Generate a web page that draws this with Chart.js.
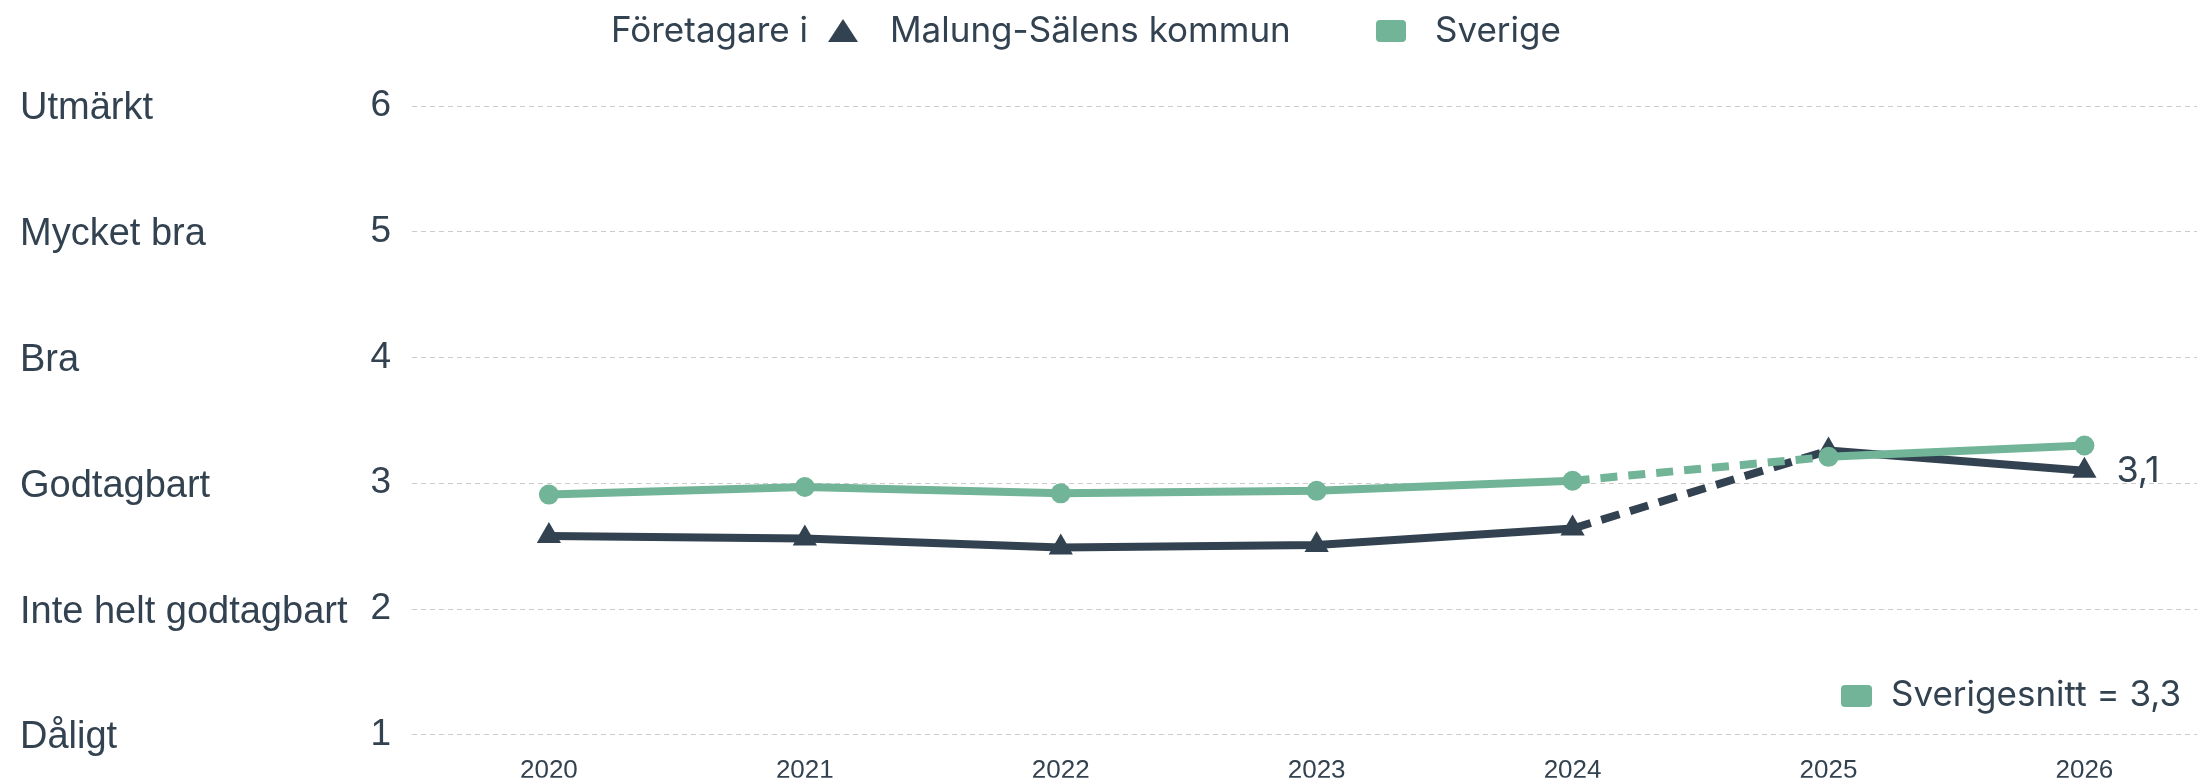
<!DOCTYPE html>
<html>
<head>
<meta charset="utf-8">
<script src="https://cdn.jsdelivr.net/npm/chart.js@4.4.1/dist/chart.umd.min.js"></script>
<style>
  html, body { margin: 0; padding: 0; background: #fff; }
  #wrap { width: 2211px; height: 778px; }
</style>
</head>
<body>
<div id="wrap"><canvas id="chart"></canvas></div>
<script>
// data
const years = [2020, 2021, 2022, 2023, 2024, 2025, 2026];
const malung = [2.58, 2.56, 2.49, 2.51, 2.64, 3.26, 3.10];
const sverige = [2.91, 2.97, 2.92, 2.94, 3.02, 3.21, 3.30];
const yTicks = [1, 2, 3, 4, 5, 6];
const yNames = ['Dåligt', 'Inte helt godtagbart', 'Godtagbart', 'Bra', 'Mycket bra', 'Utmärkt'];
const sverigeSnitt = 3.3;

const dark = '#334250';
const green = '#71b497';
const textCol = '#334250';
const legendFont = '35px Inter';
const labelFont = '38px "Liberation Sans"';

// 2024 -> 2025 is drawn dashed
const dashFrom = 4;

const textPlugin = {
  id: 'texts',
  afterDraw(chart) {
    const ctx = chart.ctx;
    const y = chart.scales.y;
    const x = chart.scales.x;
    ctx.save();
    ctx.fillStyle = textCol;
    ctx.textBaseline = 'middle';

    // category names on the left
    ctx.font = labelFont;
    ctx.textAlign = 'left';
    yTicks.forEach((v, i) => {
      ctx.fillText(yNames[i], 20, y.getPixelForValue(v) + 3);
    });

    // top legend
    ctx.font = legendFont;
    ctx.fillText('Företagare i', 611, 31);
    ctx.fillStyle = dark;
    ctx.beginPath();
    ctx.moveTo(843, 19);
    ctx.lineTo(858, 42);
    ctx.lineTo(828, 42);
    ctx.closePath();
    ctx.fill();
    ctx.fillStyle = textCol;
    ctx.fillText('Malung-Sälens kommun', 890, 31);
    ctx.fillStyle = green;
    ctx.beginPath();
    ctx.roundRect(1376, 20, 30, 22, 4);
    ctx.fill();
    ctx.fillStyle = textCol;
    ctx.fillText('Sverige', 1435, 31);

    // bottom right legend
    ctx.fillStyle = green;
    ctx.beginPath();
    ctx.roundRect(1841, 685, 31, 22, 4);
    ctx.fill();
    ctx.fillStyle = textCol;
    ctx.fillText('Sverigesnitt = ' + String(sverigeSnitt).replace('.', ','), 1891, 695);

    // end label
    const last = malung.length - 1;
    ctx.font = '36px Inter';
    ctx.fillText(malung[last].toFixed(1).replace('.', ','), x.getPixelForValue(years[last]) + 32, y.getPixelForValue(malung[last]));
    ctx.restore();
  }
};

const segDash = (d) => ({
  borderDash: ctx => ctx.p0DataIndex === dashFrom ? d : undefined
});

new Chart(document.getElementById('chart').getContext('2d'), {
  type: 'line',
  data: {
    datasets: [{
      label: 'Sverige',
      data: years.map((yr, i) => ({ x: yr, y: sverige[i] })),
      borderColor: green,
      backgroundColor: green,
      borderWidth: 8,
      pointStyle: 'circle',
      pointRadius: 10,
      pointBorderWidth: 0,
      segment: segDash([17, 11]),
      order: 0
    }, {
      label: 'Malung-Sälens kommun',
      data: years.map((yr, i) => ({ x: yr, y: malung[i] })),
      borderColor: dark,
      backgroundColor: dark,
      borderWidth: 8,
      pointStyle: 'triangle',
      pointRadius: 14,
      pointBorderWidth: 0,
      segment: segDash([19, 11]),
      order: 1
    }]
  },
  options: {
    responsive: true,
    maintainAspectRatio: false,
    animation: false,
    layout: { padding: { top: 106, right: 0, bottom: 0, left: 0 } },
    plugins: {
      legend: { display: false },
      tooltip: { enabled: false }
    },
    scales: {
      x: {
        type: 'linear',
        min: 2019.465,
        max: 2026.44,
        afterBuildTicks: s => { s.ticks = years.map(v => ({ value: v })); },
        afterFit: s => { s.height = 43; },
        grid: { display: false, drawTicks: false },
        border: { display: false },
        ticks: {
          color: textCol,
          font: { family: 'Liberation Sans', size: 26 },
          padding: 20,
          maxRotation: 0,
          callback: v => String(v)
        }
      },
      y: {
        min: 1,
        max: 6,
        afterBuildTicks: s => { s.ticks = yTicks.map(v => ({ value: v })); },
        afterFit: s => { s.width = 412; },
        grid: { color: '#cccccc', lineWidth: 1, drawTicks: false },
        border: { display: false, dash: [5, 4] },
        ticks: {
          color: textCol,
          font: { family: 'Liberation Sans', size: 37 },
          padding: 21
        }
      }
    }
  },
  plugins: [textPlugin]
});
</script>
</body>
</html>
